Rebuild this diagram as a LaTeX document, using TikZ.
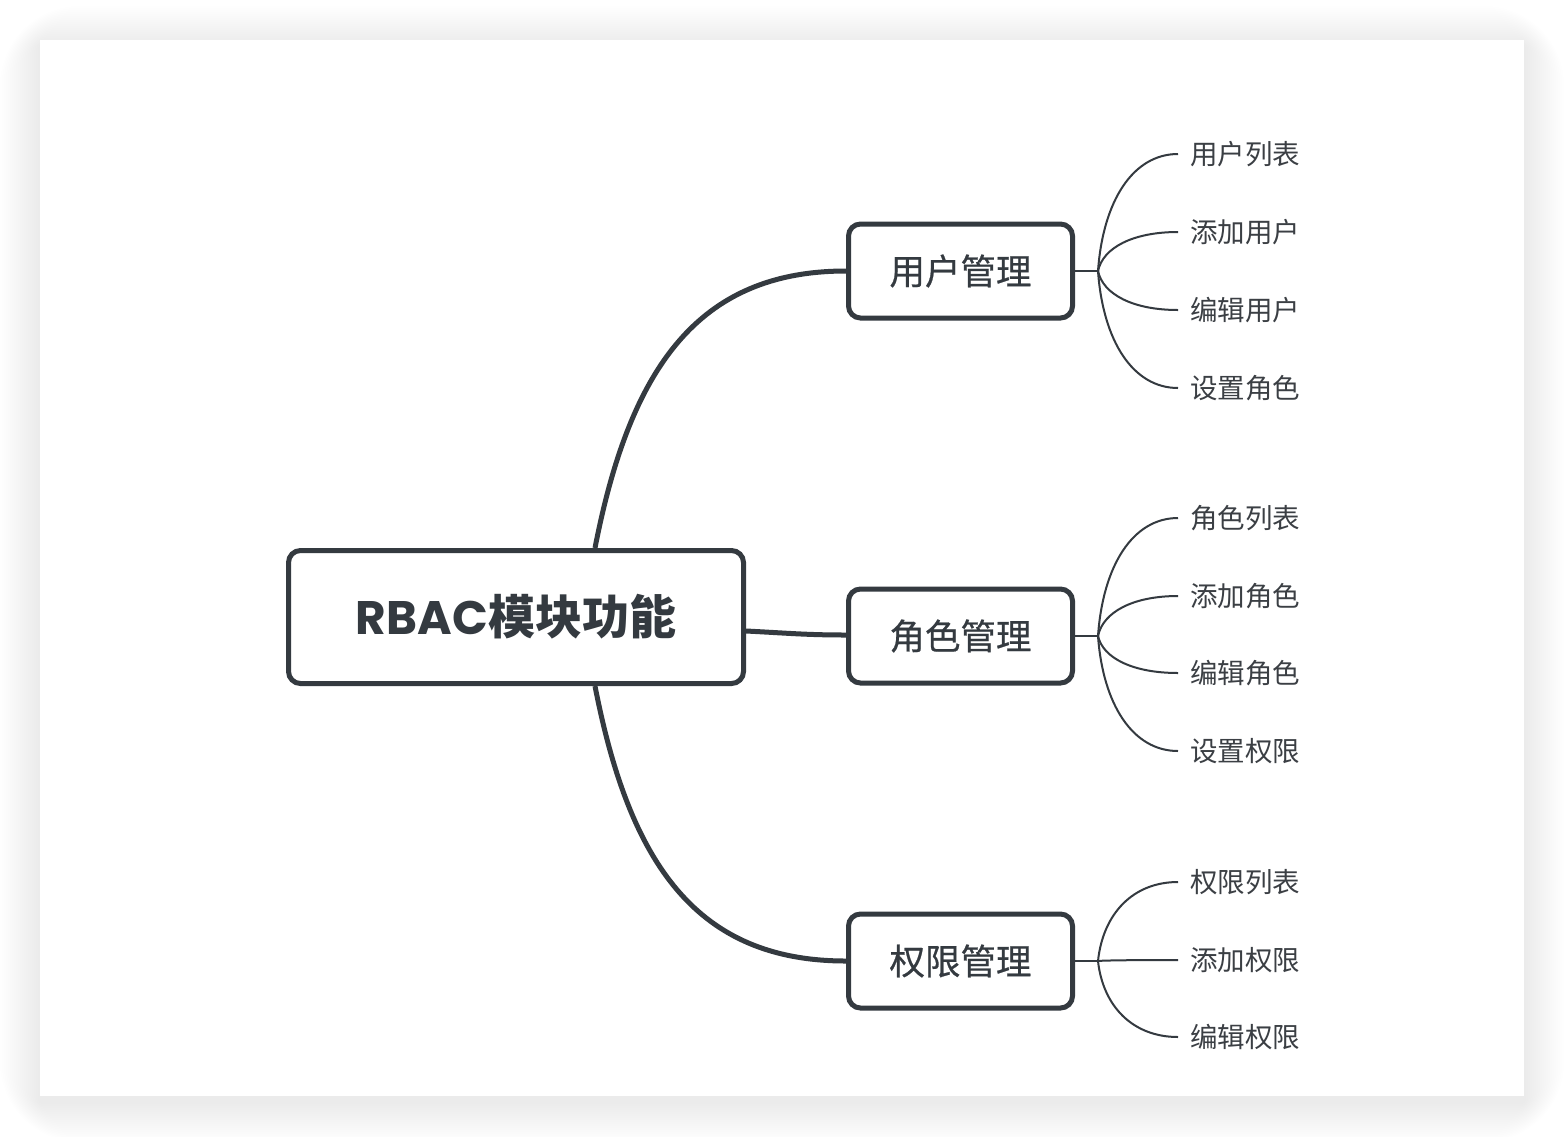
\documentclass[tikz,border=0pt]{standalone}
\usepackage{fontspec}
\usepackage{tikz}
\usetikzlibrary{calc}
\newfontfamily\cjk{Noto Sans CJK SC}
\newfontfamily\cjkmid[FakeBold=0.6]{Noto Sans CJK SC}
\newfontfamily\latinbold{Poppins}
\definecolor{ink}{HTML}{343A40}
\definecolor{leafink}{HTML}{3B3F44}

\begin{document}
\begin{tikzpicture}[x=0.5pt,y=-0.5pt,
    topic/.style={draw=ink,line width=2.5pt,rounded corners=6pt,fill=white,text=ink,
        inner sep=0pt,minimum width=112pt,minimum height=47pt,
        font=\cjkmid\fontsize{17.75pt}{20pt}\selectfont},
    leaf/.style={anchor=west,inner xsep=6pt,inner ysep=0pt,outer sep=0pt,text=leafink,
        font=\cjk\fontsize{13.75pt}{16pt}\selectfont},
    trunk/.style={draw=ink,line width=2.5pt},
    twig/.style={draw=ink,line width=1pt,
        to path={.. controls ($(\tikztostart)!0.6!(\tikztostart |- \tikztotarget)+(5,0)$)
            and +(-45,0) .. (\tikztotarget)}}]
      \useasboundingbox (0,0) rectangle (1564,1136);
      % card with soft shadow
      \foreach \i in {1,...,20}
        \fill[black,opacity=0.004,rounded corners=2*\i]
          (40-2*\i,46-2*\i) rectangle (1524+2*\i,1102+2*\i);
      \fill[white] (40,40) rectangle (1524,1096);
      % topics
      \node[topic,minimum width=227.5pt,minimum height=66.5pt,
        font=\cjk\bfseries\fontsize{23.5pt}{26pt}\selectfont] (root) at (516,617)
        {{\latinbold\bfseries RBAC}模块功能};
      \node[topic] (user) at (960.5,271) {用户管理};
      \node[topic] (role) at (960.5,636) {角色管理};
      \node[topic] (perm) at (960.5,961) {权限管理};
      \coordinate (bu) at (1098,271);
      \coordinate (br) at (1098,636);
      \coordinate (bp) at (1098,961);
      % leaves
      \node[leaf] (user1) at (1178,154) {用户列表};
      \node[leaf] (user2) at (1178,232) {添加用户};
      \node[leaf] (user3) at (1178,310) {编辑用户};
      \node[leaf] (user4) at (1178,388) {设置角色};
      \node[leaf] (role1) at (1178,518) {角色列表};
      \node[leaf] (role2) at (1178,596) {添加角色};
      \node[leaf] (role3) at (1178,673) {编辑角色};
      \node[leaf] (role4) at (1178,751) {设置权限};
      \node[leaf] (perm1) at (1178,882) {权限列表};
      \node[leaf] (perm2) at (1178,960) {添加权限};
      \node[leaf] (perm3) at (1178,1037) {编辑权限};
      % main branches
      \draw[trunk] ($(root.north)+(79,0)$) .. controls +(35,-180) and +(-148,0) .. (user.west);
      \draw[trunk] ($(root.east)+(0,14)$) .. controls +(40,2) and +(-40,0) .. ($(role.west)+(0,-1)$);
      \draw[trunk] ($(root.south)+(79,0)$) .. controls +(35,180) and +(-148,0) .. (perm.west);
      % sub branches
      \draw[ink,line width=1pt] (user.east) -- (bu);
      \draw[ink,line width=1pt] (role.east) -- (br);
      \draw[ink,line width=1pt] (perm.east) -- (bp);
      \path
      (bu) edge [twig] (user1.west)
      (bu) edge [twig] (user2.west)
      (bu) edge [twig] (user3.west)
      (bu) edge [twig] (user4.west);
      \path
      (br) edge [twig] (role1.west)
      (br) edge [twig] (role2.west)
      (br) edge [twig] (role3.west)
      (br) edge [twig] (role4.west);
      \path
      (bp) edge [twig] (perm1.west)
      (bp) edge [twig] (perm2.west)
      (bp) edge [twig] (perm3.west);
    \end{tikzpicture}
\end{document}
